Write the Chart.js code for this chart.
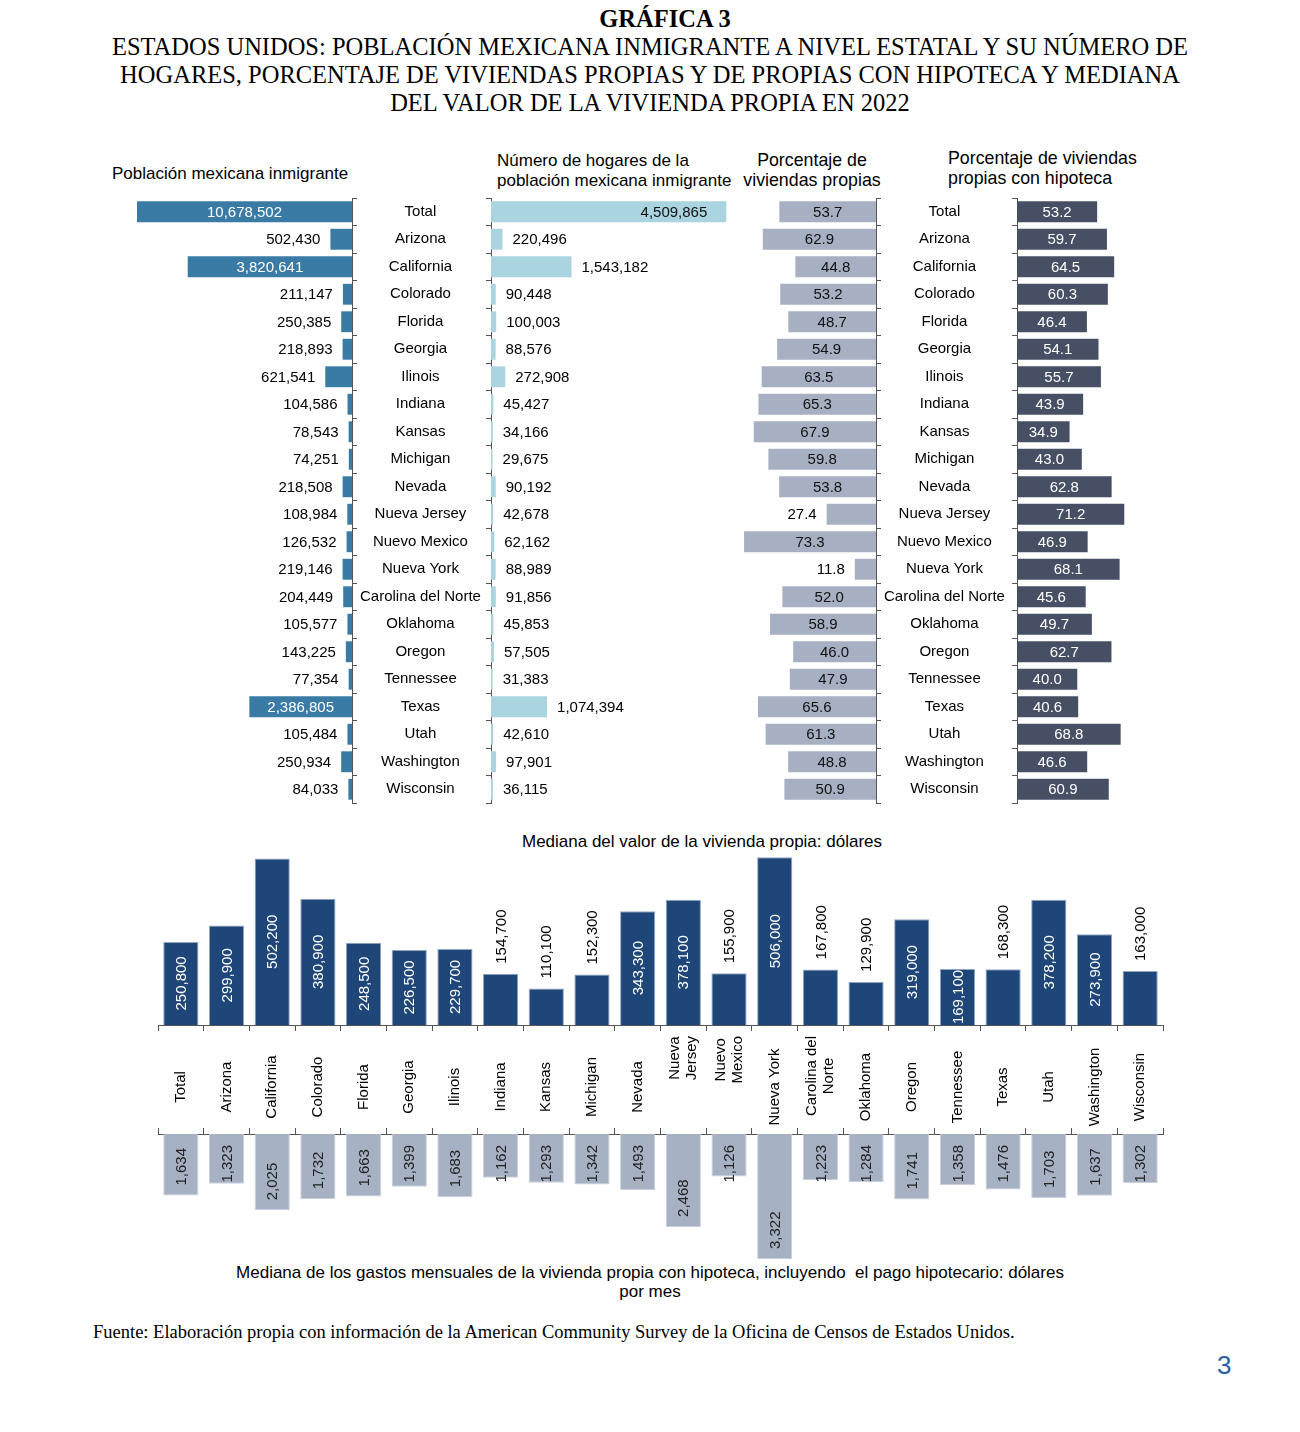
<!DOCTYPE html>
<html lang="es">
<head>
<meta charset="utf-8">
<script src="https://cdn.jsdelivr.net/npm/chart.js@4.4.1/dist/chart.umd.min.js"></script>
<style>
  body { margin: 0; width: 1300px; height: 1432px; position: relative; background: #fff; color: #000;
         font-family: "Liberation Sans", Arial, sans-serif; }
  .txt { position: absolute; white-space: nowrap; }
  canvas { position: absolute; }
  #titulo { top: 5px; left: 0; width: 1300px; text-align: center; font-family: "Liberation Serif", "Times New Roman", serif;
            font-size: 24.5px; line-height: 28px; }
  #titulo b { font-weight: bold; position: relative; left: 15px; }
  .cab { font-size: 17px; line-height: 20px; }
  .cab2 { font-size: 17.8px; line-height: 20px; }
  #fuente { left: 93px; top: 1322px; font-family: "Liberation Serif", "Times New Roman", serif; font-size: 18.5px; }
  #pagina { left: 1217px; top: 1350px; font-size: 26px; color: #2d5ea8; }
</style>
</head>
<body>
<div id="titulo" class="txt"><b>GRÁFICA 3</b><br>ESTADOS UNIDOS: POBLACIÓN MEXICANA INMIGRANTE A NIVEL ESTATAL Y SU NÚMERO DE<br>HOGARES, PORCENTAJE DE VIVIENDAS PROPIAS Y DE PROPIAS CON HIPOTECA Y MEDIANA<br>DEL VALOR DE LA VIVIENDA PROPIA EN 2022</div>

<div class="txt cab" style="left:112px; top:164px;">Población mexicana inmigrante</div>
<div class="txt cab" style="left:497px; top:151px;">Número de hogares de la<br>población mexicana inmigrante</div>
<div class="txt cab2" style="left:712px; top:150px; width:200px; text-align:center;">Porcentaje de<br>viviendas propias</div>
<div class="txt cab2" style="left:948px; top:148px;">Porcentaje de viviendas<br>propias con hipoteca</div>

<div class="txt" style="left:452px; top:832px; width:500px; text-align:center; font-size:17px;">Mediana del valor de la vivienda propia: dólares</div>
<div class="txt" style="left:150px; top:1263px; width:1000px; text-align:center; font-size:17px; line-height:19px;">Mediana de los gastos mensuales de la vivienda propia con hipoteca, incluyendo&nbsp; el pago hipotecario: dólares<br>por mes</div>

<div id="fuente" class="txt">Fuente: Elaboración propia con información de la American Community Survey de la Oficina de Censos de Estados Unidos.</div>
<div id="pagina" class="txt">3</div>

<canvas id="cPoblacion" width="361" height="620" style="left:130px; top:190px;"></canvas>
<canvas id="cHogares" width="250" height="620" style="left:485px; top:190px;"></canvas>
<canvas id="cPropias" width="282" height="620" style="left:735px; top:190px;"></canvas>
<canvas id="cHipoteca" width="119" height="620" style="left:1011px; top:190px;"></canvas>
<canvas id="cValor" width="1025" height="305" style="left:150px; top:830px;"></canvas>
<canvas id="cGastos" width="1025" height="150" style="left:150px; top:1120px;"></canvas>

<script>
const estados = ['Total', 'Arizona', 'California', 'Colorado', 'Florida', 'Georgia', 'Ilinois', 'Indiana', 'Kansas',
  'Michigan', 'Nevada', 'Nueva Jersey', 'Nuevo Mexico', 'Nueva York', 'Carolina del Norte', 'Oklahoma', 'Oregon',
  'Tennessee', 'Texas', 'Utah', 'Washington', 'Wisconsin']

// nombres partidos en lineas para el eje de las columnas
const estadosColumnas = [['Total'], ['Arizona'], ['California'], ['Colorado'], ['Florida'], ['Georgia'], ['Ilinois'],
  ['Indiana'], ['Kansas'], ['Michigan'], ['Nevada'], ['Nueva', 'Jersey'], ['Nuevo', 'Mexico'], ['Nueva York'],
  ['Carolina del', 'Norte'], ['Oklahoma'], ['Oregon'], ['Tennessee'], ['Texas'], ['Utah'], ['Washington'], ['Wisconsin']]

const poblacion = [10678502, 502430, 3820641, 211147, 250385, 218893, 621541, 104586, 78543, 74251, 218508,
  108984, 126532, 219146, 204449, 105577, 143225, 77354, 2386805, 105484, 250934, 84033]

const hogares = [4509865, 220496, 1543182, 90448, 100003, 88576, 272908, 45427, 34166, 29675, 90192,
  42678, 62162, 88989, 91856, 45853, 57505, 31383, 1074394, 42610, 97901, 36115]

const viviendasPropias = [53.7, 62.9, 44.8, 53.2, 48.7, 54.9, 63.5, 65.3, 67.9, 59.8, 53.8,
  27.4, 73.3, 11.8, 52.0, 58.9, 46.0, 47.9, 65.6, 61.3, 48.8, 50.9]

const conHipoteca = [53.2, 59.7, 64.5, 60.3, 46.4, 54.1, 55.7, 43.9, 34.9, 43.0, 62.8,
  71.2, 46.9, 68.1, 45.6, 49.7, 62.7, 40.0, 40.6, 68.8, 46.6, 60.9]

const valorVivienda = [250800, 299900, 502200, 380900, 248500, 226500, 229700, 154700, 110100, 152300, 343300,
  378100, 155900, 506000, 167800, 129900, 319000, 169100, 168300, 378200, 273900, 163000]

const gastosMensuales = [1634, 1323, 2025, 1732, 1663, 1399, 1683, 1162, 1293, 1342, 1493,
  2468, 1126, 3322, 1223, 1284, 1741, 1358, 1476, 1703, 1637, 1302]

const FUENTE = '"Liberation Sans", Arial, sans-serif'
const fmtEntero = v => v.toLocaleString('en-US')
const fmtDecimal = v => v.toFixed(1)

Chart.defaults.font.family = FUENTE
Chart.defaults.font.size = 15
Chart.defaults.color = '#000'
Chart.defaults.animation = false

// Etiquetas de valor en las barras horizontales
const etiquetasHorizontales = {
  id: 'etiquetasHorizontales',
  afterDatasetsDraw(chart, args, opts) {
    const ctx = chart.ctx
    const area = chart.chartArea
    const datos = chart.data.datasets[0].data
    ctx.save()
    ctx.font = '15px ' + FUENTE
    ctx.textBaseline = 'middle'
    chart.getDatasetMeta(0).data.forEach((barra, i) => {
      const texto = opts.formato(datos[i])
      const x = Math.min(Math.max(barra.x, area.left), area.right)
      const base = barra.base
      const dir = x < base ? -1 : 1
      if (Math.abs(x - base) >= opts.minDentro) {
        ctx.fillStyle = opts.colorDentro
        if (opts.alFinal) {
          ctx.textAlign = dir > 0 ? 'right' : 'left'
          ctx.fillText(texto, x - dir * opts.alFinal, barra.y + 1)
        } else {
          ctx.textAlign = 'center'
          ctx.fillText(texto, (x + base) / 2, barra.y + 1)
        }
      } else {
        ctx.fillStyle = opts.colorFuera
        ctx.textAlign = dir > 0 ? 'left' : 'right'
        ctx.fillText(texto, x + dir * 10, barra.y + 1)
      }
    })
    ctx.restore()
  }
}

function panelHorizontal(id, valores, o) {
  return new Chart(document.getElementById(id), {
    type: 'bar',
    data: {
      labels: estados,
      datasets: [{ data: valores, backgroundColor: o.color, categoryPercentage: 1, barPercentage: 0.76, clip: 0 }]
    },
    options: {
      indexAxis: 'y',
      responsive: false,
      layout: { padding: o.padding },
      plugins: { legend: { display: false }, tooltip: { enabled: false }, etiquetasHorizontales: o.etiquetas },
      scales: {
        x: { display: false, min: 0, max: o.max, reverse: o.reverse },
        y: {
          position: o.lado,
          grid: { drawOnChartArea: false, drawTicks: true, tickLength: 5, color: '#555' },
          border: { color: '#555' },
          ticks: { display: o.nombres, crossAlign: 'center', autoSkip: false, padding: 3, color: '#000' },
          afterFit: s => {
            // mismo alto de area en todos los paneles
            s.width = o.anchoEje
            s.paddingTop = 0
            s.paddingBottom = 0
          }
        }
      }
    },
    plugins: [etiquetasHorizontales]
  })
}

panelHorizontal('cPoblacion', poblacion, {
  color: '#3a7ba6', max: 5000000, reverse: true, lado: 'right', nombres: true, anchoEje: 139,
  padding: { left: 7, right: 0, top: 8, bottom: 7 },
  etiquetas: { formato: fmtEntero, minDentro: 80, colorDentro: '#fff', colorFuera: '#000' }
})

panelHorizontal('cHogares', hogares, {
  color: '#aad4df', max: 4600000, reverse: false, lado: 'left', nombres: false, anchoEje: 6,
  padding: { left: 0, right: 4, top: 8, bottom: 7 },
  etiquetas: { formato: fmtEntero, minDentro: 200, alFinal: 19, colorDentro: '#111', colorFuera: '#000' }
})

panelHorizontal('cPropias', viviendasPropias, {
  color: '#a6b0c2', max: 75, reverse: true, lado: 'right', nombres: true, anchoEje: 141,
  padding: { left: 6, right: 0, top: 8, bottom: 7 },
  etiquetas: { formato: fmtDecimal, minDentro: 60, colorDentro: '#111', colorFuera: '#000' }
})

panelHorizontal('cHipoteca', conHipoteca, {
  color: '#464f64', max: 75, reverse: false, lado: 'left', nombres: false, anchoEje: 6,
  padding: { left: 0, right: 0, top: 8, bottom: 7 },
  etiquetas: { formato: fmtDecimal, minDentro: 0, colorDentro: '#fff', colorFuera: '#000' }
})

// Etiquetas giradas de las columnas
const etiquetasColumnas = {
  id: 'etiquetasColumnas',
  afterDatasetsDraw(chart, args, opts) {
    const ctx = chart.ctx
    const datos = chart.data.datasets[0].data
    ctx.save()
    ctx.font = '15px ' + FUENTE
    ctx.textAlign = 'center'
    ctx.textBaseline = 'middle'
    chart.getDatasetMeta(0).data.forEach((barra, i) => {
      const texto = fmtEntero(datos[i])
      const w = ctx.measureText(texto).width
      let cy
      if (opts.modo === 'arriba') {
        if (datos[i] >= opts.umbral) {
          ctx.fillStyle = '#fff'
          cy = (barra.y + barra.base) / 2
        } else {
          ctx.fillStyle = '#000'
          cy = barra.y - 10 - w / 2
        }
      } else {
        ctx.fillStyle = '#222'
        cy = Math.max(barra.base + 11 + w / 2, barra.y - 10 - w / 2)
      }
      ctx.save()
      ctx.translate(barra.x + 1, cy)
      ctx.rotate(-Math.PI / 2)
      ctx.fillText(texto, 0, 0)
      ctx.restore()
    })

    // nombres de los estados entre las dos graficas
    if (opts.nombres) {
      const esc = chart.scales.x
      const abajo = chart.chartArea.bottom
      ctx.fillStyle = '#000'
      opts.nombres.forEach((lineas, i) => {
        const x = esc.getPixelForValue(i)
        const largo = Math.max(...lineas.map(l => ctx.measureText(l).width))
        // una linea: centrada en la banda; varias: pegadas arriba
        const cy = lineas.length > 1 ? abajo + 11 + largo / 2 : abajo + 62
        ctx.save()
        ctx.translate(x, cy)
        ctx.rotate(-Math.PI / 2)
        lineas.forEach((l, k) => ctx.fillText(l, 0, (k - (lineas.length - 1) / 2) * 17))
        ctx.restore()
      })
    }
    ctx.restore()
  }
}

function panelColumnas(id, valores, o) {
  return new Chart(document.getElementById(id), {
    type: 'bar',
    data: {
      labels: estados,
      datasets: [{ data: valores, backgroundColor: o.color, borderColor: o.borde, borderWidth: 1,
        categoryPercentage: 1, barPercentage: 0.77 }]
    },
    options: {
      responsive: false,
      layout: { padding: o.padding },
      plugins: { legend: { display: false }, tooltip: { enabled: false }, etiquetasColumnas: o.etiquetas },
      scales: {
        x: {
          position: o.lado,
          grid: { drawOnChartArea: false, drawTicks: true, tickLength: 6, color: '#555' },
          border: { color: '#555' },
          ticks: { display: false },
          afterFit: s => { s.height = o.altoEje }
        },
        y: { display: false, min: 0, max: o.max, reverse: o.reverse }
      }
    },
    plugins: [etiquetasColumnas]
  })
}

panelColumnas('cValor', valorVivienda, {
  color: '#1f4679', borde: '#8fa6c4', max: 510000, reverse: false, lado: 'bottom', altoEje: 110,
  padding: { left: 8, right: 12, top: 26, bottom: 0 },
  etiquetas: { modo: 'arriba', umbral: 169000, nombres: estadosColumnas }
})

panelColumnas('cGastos', gastosMensuales, {
  color: '#a7b1c4', borde: '#c9cfdb', max: 3400, reverse: true, lado: 'top', altoEje: 14,
  padding: { left: 8, right: 12, top: 0, bottom: 8 },
  etiquetas: { modo: 'abajo' }
})
</script>
</body>
</html>
